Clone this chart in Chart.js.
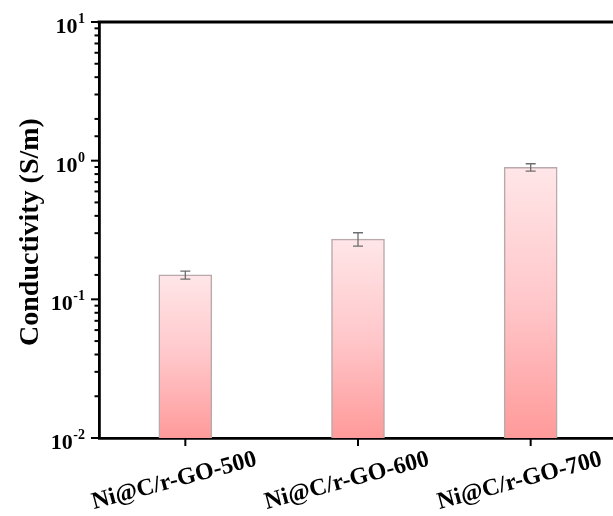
<!DOCTYPE html>
<html>
<head>
<meta charset="utf-8">
<script src="https://cdn.jsdelivr.net/npm/chart.js@4.4.1/dist/chart.umd.min.js"></script>
<style>
html,body{margin:0;padding:0;background:#fff;overflow:hidden;}
#wrap{width:620px;height:516px;position:relative;}
</style>
</head>
<body>
<div id="wrap"><canvas id="c" width="620" height="516"></canvas></div>
<script>
const categories = ["Ni@C/r-GO-500", "Ni@C/r-GO-600", "Ni@C/r-GO-700"];
const conductivity = [0.150, 0.272, 0.895];
const errors = [0.010, 0.030, 0.055];
const yTickExponents = [1, 0, -1, -2];
const yTitle = "Conductivity (S/m)";

const SERIF = '"Liberation Serif", "Times New Roman", serif';

const decorPlugin = {
  id: 'decor',
  afterDatasetsDraw(chart) {
    const ctx = chart.ctx;
    const x = chart.scales.x, y = chart.scales.y;
    const ca = chart.chartArea;
    ctx.save();
    // error bars
    ctx.strokeStyle = '#6e6e6e';
    ctx.lineWidth = 1.3;
    conductivity.forEach((v, i) => {
      const px = x.getPixelForValue(i);
      const top = y.getPixelForValue(v + errors[i]);
      const bot = y.getPixelForValue(v - errors[i]);
      ctx.beginPath();
      ctx.moveTo(px, top); ctx.lineTo(px, bot);
      ctx.moveTo(px - 5, top); ctx.lineTo(px + 5, top);
      ctx.moveTo(px - 5, bot); ctx.lineTo(px + 5, bot);
      ctx.stroke();
    });
    // top frame line
    ctx.strokeStyle = '#000';
    ctx.lineWidth = 2.8;
    ctx.beginPath();
    ctx.moveTo(ca.left - 1.4, ca.top); ctx.lineTo(chart.width, ca.top);
    ctx.stroke();
    // y ticks (outward)
    ctx.lineWidth = 2;
    y.ticks.forEach(t => {
      const v = t.value;
      const lg = Math.log10(v);
      const major = Math.abs(lg - Math.round(lg)) < 1e-6;
      const py = y.getPixelForValue(v);
      ctx.beginPath();
      ctx.moveTo(ca.left, py);
      ctx.lineTo(ca.left - (major ? 8 : 4.5), py);
      ctx.stroke();
    });
    // x ticks
    categories.forEach((c, i) => {
      const px = x.getPixelForValue(i);
      ctx.beginPath();
      ctx.moveTo(px, ca.bottom);
      ctx.lineTo(px, ca.bottom + 8);
      ctx.stroke();
    });
    // y tick labels with superscripts
    ctx.fillStyle = '#000';
    ctx.textBaseline = 'alphabetic';
    yTickExponents.forEach(e => {
      const py = y.getPixelForValue(Math.pow(10, e));
      const expStr = String(e).replace('-', '-');
      ctx.font = 'bold 14px ' + SERIF;
      ctx.textAlign = 'right';
      const ew = ctx.measureText(expStr).width;
      const right = 85;
      ctx.fillText(expStr, right, py + 1);
      ctx.font = 'bold 22px ' + SERIF;
      ctx.fillText('10', right - ew - 0.5, py + 11);
    });
    // y title
    ctx.save();
    ctx.translate(31, 232);
    ctx.rotate(-Math.PI / 2);
    ctx.font = 'bold 28px ' + SERIF;
    ctx.textAlign = 'center';
    ctx.textBaseline = 'middle';
    ctx.fillText(yTitle, 0, 0);
    ctx.restore();
    // x labels, rotated
    categories.forEach((c, i) => {
      const px = x.getPixelForValue(i);
      ctx.save();
      ctx.translate(px - 11, 481);
      ctx.rotate(-15 * Math.PI / 180);
      ctx.font = 'bold 24px ' + SERIF;
      ctx.textAlign = 'center';
      ctx.textBaseline = 'middle';
      ctx.fillText(c, 0, 0);
      ctx.restore();
    });
    ctx.restore();
  }
};

function barGradient(context) {
  const chart = context.chart;
  const ca = chart.chartArea;
  if (!ca || !chart.scales.y) return '#ffc0c4';
  const v = conductivity[context.dataIndex];
  const top = chart.scales.y.getPixelForValue(v);
  const g = chart.ctx.createLinearGradient(0, top, 0, ca.bottom);
  g.addColorStop(0, '#ffe6e8');
  g.addColorStop(0.5, '#ffc7ca');
  g.addColorStop(1, '#ff9a9a');
  return g;
}

new Chart(document.getElementById('c'), {
  type: 'bar',
  data: {
    labels: categories,
    datasets: [{
      data: conductivity,
      backgroundColor: barGradient,
      borderColor: '#b9a9aa',
      borderWidth: 1.5,
      barThickness: 53
    }]
  },
  options: {
    responsive: false,
    animation: false,
    events: [],
    layout: { padding: { left: 99, right: 3, top: 22, bottom: 78 } },
    plugins: { legend: { display: false }, tooltip: { enabled: false } },
    scales: {
      x: {
        offset: true,
        grid: { display: false, drawTicks: false },
        border: { display: true, color: '#000', width: 2.8 },
        ticks: { display: false }
      },
      y: {
        type: 'logarithmic',
        min: 0.01,
        max: 10,
        grid: { display: false, drawTicks: false },
        border: { display: true, color: '#000', width: 2.8 },
        ticks: { display: false }
      }
    }
  },
  plugins: [decorPlugin]
});
</script>
</body>
</html>
